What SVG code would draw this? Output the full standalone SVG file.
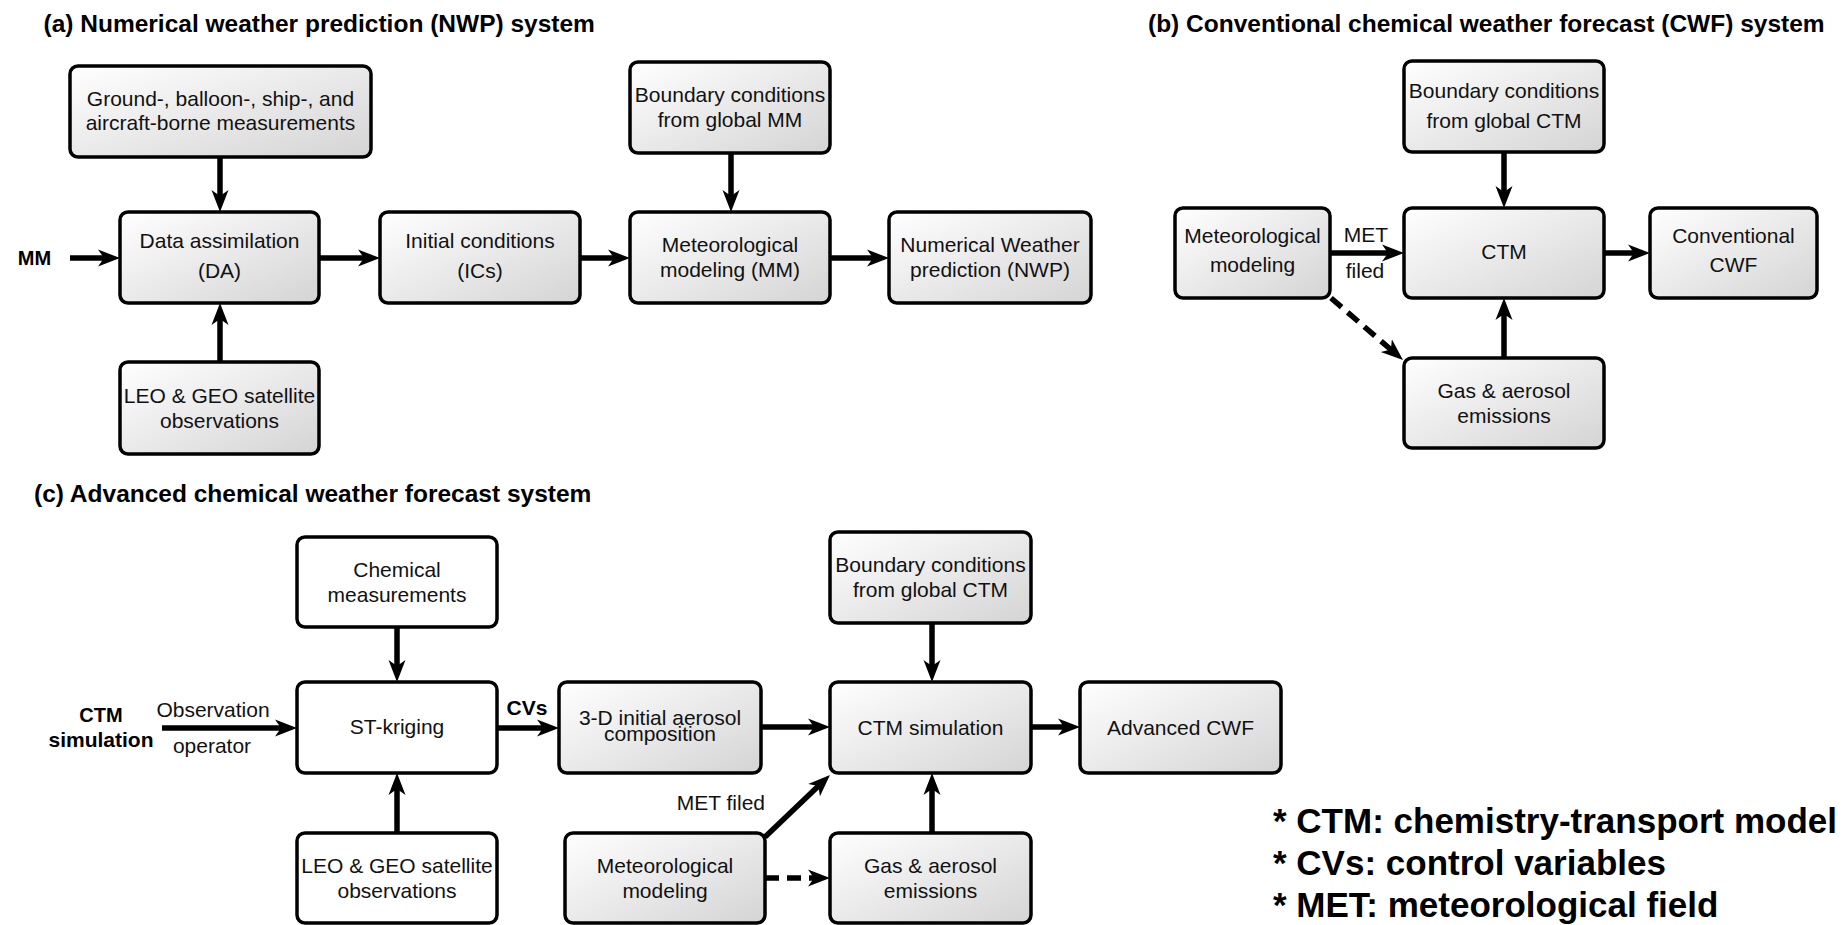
<svg xmlns="http://www.w3.org/2000/svg" width="1845" height="925" viewBox="0 0 1845 925">
<defs>
<linearGradient id="g" x1="0" y1="0" x2="1" y2="1">
<stop offset="0" stop-color="#ffffff"/>
<stop offset="1" stop-color="#d4d4d4"/>
</linearGradient>
<marker id="ah" markerUnits="userSpaceOnUse" viewBox="0 0 22 18" markerWidth="22" markerHeight="18" refX="10" refY="9" orient="auto">
<path d="M0,0.5 L22,9 L0,17.5 L6,9 Z" fill="#000"/>
</marker>
</defs>
<style>
text{font-family:"Liberation Sans",Arial,sans-serif;fill:#111;}
.t{font-size:21px;text-anchor:middle;}
.title{font-size:24.5px;font-weight:bold;fill:#000;}
.b{font-size:21px;font-weight:bold;text-anchor:middle;fill:#000;}
.leg{font-size:35px;font-weight:bold;fill:#000;}
.box{fill:url(#g);stroke:#000;stroke-width:3.5;}
.wbox{fill:#fff;stroke:#000;stroke-width:3.5;}
.c{fill:none;stroke:#000;stroke-width:5.5;marker-end:url(#ah);}
.d{stroke-dasharray:14 8;}
</style>
<rect width="1845" height="925" fill="#fff"/>

<text class="title" x="43.5" y="32">(a) Numerical weather prediction (NWP) system</text>
<text class="title" x="1148" y="32">(b) Conventional chemical weather forecast (CWF) system</text>
<text class="title" x="34" y="502">(c) Advanced chemical weather forecast system</text>

<g id="connectors">
<path class="c" d="M70,258 L108,258"/>
<path class="c" d="M220,157 L220,200"/>
<path class="c" d="M220,362 L220,315"/>
<path class="c" d="M319,258 L368,258"/>
<path class="c" d="M580,258 L618,258"/>
<path class="c" d="M731,153 L731,200"/>
<path class="c" d="M830,258 L877,258"/>
<path class="c" d="M1504,152 L1504,196"/>
<path class="c" d="M1504,358 L1504,310"/>
<path class="c" d="M1330,253 L1392,253"/>
<path class="c" d="M1604,253 L1638,253"/>
<path class="c d" d="M1331,298 L1393.9,352.2"/>
<path class="c" d="M162,728 L285,728"/>
<path class="c" d="M397,627 L397,670"/>
<path class="c" d="M397,833 L397,785"/>
<path class="c" d="M497,728 L547,728"/>
<path class="c" d="M761,727 L818,727"/>
<path class="c" d="M932,623 L932,670"/>
<path class="c" d="M932,833 L932,785"/>
<path class="c" d="M1031,727 L1068,727"/>
<path class="c" d="M765,837 L821.3,783.3"/>
<path class="c d" d="M765,878 L818,878"/>
</g>

<g id="labels">
<text class="b" x="34.5" y="265" style="font-size:20px">MM</text>
<text class="t" x="1366" y="242">MET</text>
<text class="t" x="1365" y="278">filed</text>
<text class="b" x="101" y="722" style="font-size:20px">CTM</text>
<text class="b" x="101" y="747">simulation</text>
<text class="t" x="213" y="717">Observation</text>
<text class="t" x="212" y="753">operator</text>
<text class="b" x="527" y="715">CVs</text>
<text class="t" x="765" y="810" style="text-anchor:end">MET filed</text>
</g>

<g id="a_ground"><rect class="box" x="70" y="66" width="301" height="91" rx="8"/>
<text class="t" x="220.5" y="106">Ground-, balloon-, ship-, and</text>
<text class="t" x="220.5" y="130">aircraft-borne measurements</text></g>
<g id="a_da"><rect class="box" x="120" y="212" width="199" height="91" rx="8"/>
<text class="t" x="219.5" y="248">Data assimilation</text>
<text class="t" x="219.5" y="278">(DA)</text></g>
<g id="a_ic"><rect class="box" x="380" y="212" width="200" height="91" rx="8"/>
<text class="t" x="480" y="248">Initial conditions</text>
<text class="t" x="480" y="278">(ICs)</text></g>
<g id="a_leo"><rect class="box" x="120" y="362" width="199" height="92" rx="8"/>
<text class="t" x="219.5" y="403">LEO &amp; GEO satellite</text>
<text class="t" x="219.5" y="428">observations</text></g>
<g id="a_bc"><rect class="box" x="630" y="62" width="200" height="91" rx="8"/>
<text class="t" x="730" y="102">Boundary conditions</text>
<text class="t" x="730" y="127">from global MM</text></g>
<g id="a_mm"><rect class="box" x="630" y="212" width="200" height="91" rx="8"/>
<text class="t" x="730" y="252">Meteorological</text>
<text class="t" x="730" y="277">modeling (MM)</text></g>
<g id="a_nwp"><rect class="box" x="889" y="212" width="202" height="91" rx="8"/>
<text class="t" x="990" y="252">Numerical Weather</text>
<text class="t" x="990" y="277">prediction (NWP)</text></g>

<g id="b_bc"><rect class="box" x="1404" y="61" width="200" height="91" rx="8"/>
<text class="t" x="1504" y="98">Boundary conditions</text>
<text class="t" x="1504" y="128">from global CTM</text></g>
<g id="b_met"><rect class="box" x="1175" y="208" width="155" height="90" rx="8"/>
<text class="t" x="1252.5" y="243">Meteorological</text>
<text class="t" x="1252.5" y="272">modeling</text></g>
<g id="b_ctm"><rect class="box" x="1404" y="208" width="200" height="90" rx="8"/>
<text class="t" x="1504" y="259">CTM</text></g>
<g id="b_cwf"><rect class="box" x="1650" y="208" width="167" height="90" rx="8"/>
<text class="t" x="1733.5" y="243">Conventional</text>
<text class="t" x="1733.5" y="272">CWF</text></g>
<g id="b_gas"><rect class="box" x="1404" y="358" width="200" height="90" rx="8"/>
<text class="t" x="1504" y="398">Gas &amp; aerosol</text>
<text class="t" x="1504" y="423">emissions</text></g>

<g id="c_chem"><rect class="wbox" x="297" y="537" width="200" height="90" rx="8"/>
<text class="t" x="397" y="577">Chemical</text>
<text class="t" x="397" y="602">measurements</text></g>
<g id="c_st"><rect class="wbox" x="297" y="682" width="200" height="91" rx="8"/>
<text class="t" x="397" y="734">ST-kriging</text></g>
<g id="c_leo"><rect class="wbox" x="297" y="833" width="200" height="90" rx="8"/>
<text class="t" x="397" y="873">LEO &amp; GEO satellite</text>
<text class="t" x="397" y="898">observations</text></g>
<g id="c_3d"><rect class="box" x="559" y="682" width="202" height="91" rx="8"/>
<text class="t" x="660" y="725">3-D initial aerosol</text>
<text class="t" x="660" y="741">composition</text></g>
<g id="c_bc"><rect class="box" x="830" y="532" width="201" height="91" rx="8"/>
<text class="t" x="930.5" y="572">Boundary conditions</text>
<text class="t" x="930.5" y="597">from global CTM</text></g>
<g id="c_ctm"><rect class="box" x="830" y="682" width="201" height="91" rx="8"/>
<text class="t" x="930.5" y="735">CTM simulation</text></g>
<g id="c_adv"><rect class="box" x="1080" y="682" width="201" height="91" rx="8"/>
<text class="t" x="1180.5" y="735">Advanced CWF</text></g>
<g id="c_met"><rect class="box" x="565" y="833" width="200" height="90" rx="8"/>
<text class="t" x="665" y="873">Meteorological</text>
<text class="t" x="665" y="898">modeling</text></g>
<g id="c_gas"><rect class="box" x="830" y="833" width="201" height="90" rx="8"/>
<text class="t" x="930.5" y="873">Gas &amp; aerosol</text>
<text class="t" x="930.5" y="898">emissions</text></g>

<g id="legend">
<text class="leg" x="1273" y="833">* CTM: chemistry-transport model</text>
<text class="leg" x="1273" y="875">* CVs: control variables</text>
<text class="leg" x="1273" y="917">* MET: meteorological field</text>
</g>
</svg>
